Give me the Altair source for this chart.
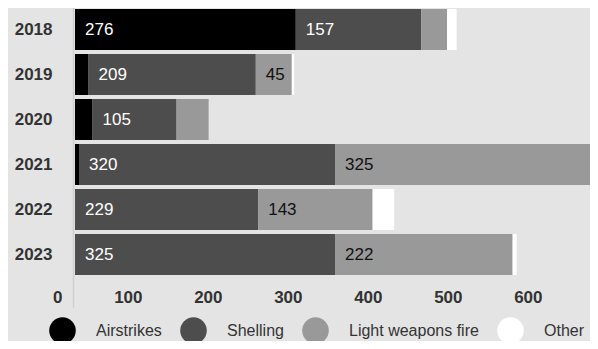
import altair as alt
import pandas as pd

years = ["2018", "2019", "2020", "2021", "2022", "2023"]
categories = ["Airstrikes", "Shelling", "Light weapons fire", "Other"]
airstrikes = [276, 17, 22, 5, 0, 0]
shelling = [157, 209, 105, 320, 229, 325]
light_weapons = [32, 45, 40, 325, 143, 222]
other = [12, 3, 0, 10, 27, 5]
colors = ["#000000", "#4d4d4d", "#999999", "#ffffff"]
x_ticks = [0, 100, 200, 300, 400, 500, 600]

FONT = "Liberation Sans"
BG = "#e4e4e4"

rows = []
series = [airstrikes, shelling, light_weapons, other]
for i, yr in enumerate(years):
    for j, cat in enumerate(categories):
        rows.append({"year": yr, "category": cat, "order": j, "value": series[j][i]})
df = pd.DataFrame(rows)

base = alt.Chart(df).transform_stack(
    stack="value",
    groupby=["year"],
    as_=["start", "end"],
    sort=[alt.SortField("order", order="ascending")],
)

x_scale = alt.Scale(domain=[0, 643.75], nice=False, zero=True)
y_scale = alt.Scale(paddingInner=4 / 45, paddingOuter=1 / 45)

bars = base.mark_bar(clip=True).encode(
    x=alt.X(
        "start:Q",
        scale=x_scale,
        axis=alt.Axis(
            values=x_ticks,
            title=None,
            labelAlign="right",
            labelOffset=-13,
            labelFontSize=17,
            labelFontWeight="bold",
            labelColor="#333333",
            labelFont=FONT,
            labelPadding=13,
            domain=False,
            ticks=False,
            grid=False,
            labelFlush=False,
            labelOverlap=False,
        ),
    ),
    x2="end:Q",
    y=alt.Y(
        "year:N",
        sort=years,
        scale=y_scale,
        axis=alt.Axis(
            title=None,
            domain=False,
            ticks=False,
            labelFontSize=17,
            labelFontWeight="bold",
            labelColor="#333333",
            labelFont=FONT,
            labelPadding=23,
        ),
    ),
    color=alt.Color(
        "category:N",
        scale=alt.Scale(domain=categories, range=colors),
        sort=categories,
        legend=alt.Legend(
            title=None,
            orient="none",
            legendX=-26,
            legendY=309,
            direction="horizontal",
            columns=4,
            symbolType="circle",
            symbolSize=707,
            symbolStrokeWidth=0,
            symbolOpacity=1,
            labelFontSize=16,
            labelFont=FONT,
            labelColor="#333333",
            labelOffset=20,
            columnPadding=18,
            padding=0,
        ),
    ),
)

white_text = base.transform_filter(
    "datum.value >= 45 && datum.order <= 1"
).mark_text(
    align="left", baseline="middle", dx=10, fontSize=17, font=FONT, color="#ffffff", clip=True
).encode(
    x=alt.X("start:Q", scale=x_scale),
    y=alt.Y("year:N", sort=years, scale=y_scale),
    text="value:Q",
)

dark_text = base.transform_filter(
    "datum.value >= 45 && datum.order >= 2"
).mark_text(
    align="left", baseline="middle", dx=10, fontSize=17, font=FONT, color="#111111", clip=True
).encode(
    x=alt.X("start:Q", scale=x_scale),
    y=alt.Y("year:N", sort=years, scale=y_scale),
    text="value:Q",
)

rule = alt.Chart(pd.DataFrame({"a": [0]})).mark_rule(
    color="#d0d0d0", strokeWidth=1.5
).encode(x=alt.value(-1.5), y=alt.value(0), y2=alt.value(300))

chart = (
    alt.layer(rule, bars, white_text, dark_text)
    .properties(
        width=515,
        height=268,
        autosize=alt.AutoSizeParams(type="none"),
        padding={"left": 67, "top": 0, "right": 0, "bottom": 65},
        background=BG,
    )
    .configure_view(stroke=None)
)

chart.save("out.html", embed_options={"renderer": "svg", "actions": False})
